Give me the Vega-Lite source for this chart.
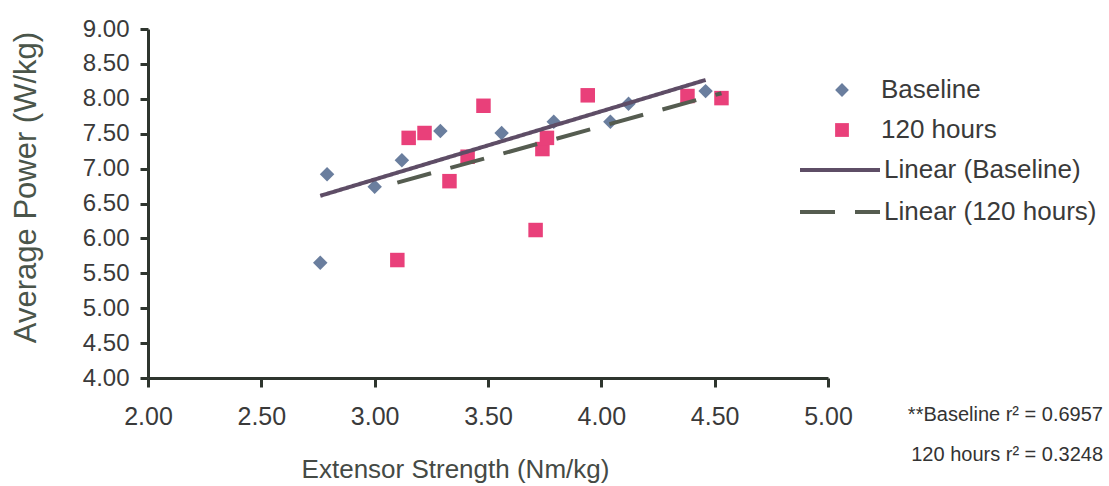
{
  "$schema": "https://vega.github.io/schema/vega-lite/v6.json",
  "width": 680,
  "height": 349,
  "autosize": {"type": "none"},
  "padding": {"left": 148, "top": 29, "right": 281, "bottom": 108},
  "background": "white",
  "title": {
    "text": ["**Baseline r² = 0.6957", "120 hours r² = 0.3248"],
    "orient": "bottom",
    "anchor": "end",
    "align": "right",
    "frame": "group",
    "dx": 275,
    "dy": -81,
    "font": "Liberation Sans",
    "fontSize": 20,
    "fontWeight": "normal",
    "color": "#333333",
    "lineHeight": 40
  },
  "datasets": {
    "points": [
      {"series": "Baseline", "strength": 2.76, "power": 5.65},
      {"series": "Baseline", "strength": 2.79, "power": 6.92},
      {"series": "Baseline", "strength": 3.00, "power": 6.74},
      {"series": "Baseline", "strength": 3.12, "power": 7.12},
      {"series": "Baseline", "strength": 3.29, "power": 7.54},
      {"series": "Baseline", "strength": 3.56, "power": 7.51},
      {"series": "Baseline", "strength": 3.79, "power": 7.67},
      {"series": "Baseline", "strength": 4.04, "power": 7.67},
      {"series": "Baseline", "strength": 4.12, "power": 7.93},
      {"series": "Baseline", "strength": 4.46, "power": 8.11},
      {"series": "120 hours", "strength": 3.10, "power": 5.69},
      {"series": "120 hours", "strength": 3.15, "power": 7.44},
      {"series": "120 hours", "strength": 3.22, "power": 7.51},
      {"series": "120 hours", "strength": 3.33, "power": 6.82},
      {"series": "120 hours", "strength": 3.41, "power": 7.17},
      {"series": "120 hours", "strength": 3.48, "power": 7.90},
      {"series": "120 hours", "strength": 3.71, "power": 6.12},
      {"series": "120 hours", "strength": 3.74, "power": 7.28},
      {"series": "120 hours", "strength": 3.76, "power": 7.44},
      {"series": "120 hours", "strength": 3.94, "power": 8.05},
      {"series": "120 hours", "strength": 4.38, "power": 8.04},
      {"series": "120 hours", "strength": 4.53, "power": 8.01}
    ],
    "trends": [
      {"series": "Linear (Baseline)", "strength": 2.76, "power": 6.61},
      {"series": "Linear (Baseline)", "strength": 4.46, "power": 8.27},
      {"series": "Linear (120 hours)", "strength": 3.10, "power": 6.80},
      {"series": "Linear (120 hours)", "strength": 4.53, "power": 8.08}
    ]
  },
  "encoding": {
    "x": {
      "field": "strength", "type": "quantitative",
      "scale": {"domain": [2, 5], "nice": false, "zero": false},
      "axis": {
        "title": "Extensor Strength (Nm/kg)",
        "values": [2, 2.5, 3, 3.5, 4, 4.5, 5],
        "format": ".2f",
        "tickSize": 9,
        "labelFontSize": 25,
        "labelPadding": 17,
        "titleFontSize": 26,
        "titleColor": "#454a45",
        "titlePadding": 27,
        "titleX": 307
      }
    },
    "y": {
      "field": "power", "type": "quantitative",
      "scale": {"domain": [4, 9], "nice": false, "zero": false},
      "axis": {
        "title": "Average Power (W/kg)",
        "values": [4, 4.5, 5, 5.5, 6, 6.5, 7, 7.5, 8, 8.5, 9],
        "format": ".2f",
        "tickSize": 8,
        "labelFontSize": 24,
        "labelPadding": 11,
        "titleFontSize": 31,
        "titleColor": "#4a554a",
        "titlePadding": 40,
        "titleY": 158
      }
    }
  },
  "layer": [
    {
      "data": {"name": "points"},
      "mark": {"type": "point", "filled": true, "opacity": 1, "strokeWidth": 0},
      "encoding": {
        "fill": {
          "field": "series", "type": "nominal",
          "scale": {"domain": ["Baseline", "120 hours"], "range": ["#6a7e9e", "#e9407a"]},
          "legend": {"title": null, "orient": "none", "legendX": 681, "legendY": 48, "symbolSize": 190, "labelOffset": 26, "rowPadding": 14}
        },
        "shape": {
          "field": "series", "type": "nominal",
          "scale": {"domain": ["Baseline", "120 hours"], "range": ["diamond", "square"]},
          "legend": {"title": null, "orient": "none", "legendX": 681, "legendY": 48, "symbolSize": 190, "labelOffset": 26, "rowPadding": 14}
        },
        "size": {"value": 210}
      }
    },
    {
      "data": {"name": "trends"},
      "mark": {"type": "line", "strokeWidth": 4},
      "encoding": {
        "stroke": {
          "field": "series", "type": "nominal",
          "scale": {"domain": ["Linear (Baseline)", "Linear (120 hours)"], "range": ["#5e4d66", "#555c50"]},
          "legend": {"title": null, "orient": "none", "legendX": 650, "legendY": 127, "symbolType": "stroke", "symbolSize": 6400, "symbolStrokeWidth": 4, "labelOffset": 2, "rowPadding": 14, "clipHeight": 28}
        },
        "strokeDash": {
          "field": "series", "type": "nominal",
          "scale": {"domain": ["Linear (Baseline)", "Linear (120 hours)"], "range": [[1, 0], [35, 20]]},
          "legend": {"title": null, "orient": "none", "legendX": 650, "legendY": 127, "symbolType": "stroke", "symbolSize": 6400, "symbolStrokeWidth": 4, "labelOffset": 2, "rowPadding": 14, "clipHeight": 28}
        }
      }
    }
  ],
  "config": {
    "view": {"stroke": null},
    "font": "Liberation Sans",
    "axis": {
      "grid": false,
      "domainColor": "#2e352e",
      "domainWidth": 3,
      "tickColor": "#2e352e",
      "tickWidth": 3,
      "labelFont": "Liberation Sans",
      "labelColor": "#3a3a3a",
      "titleFont": "Liberation Sans",
      "titleFontWeight": "normal",
      "labelFlush": false,
      "labelOverlap": false
    },
    "legend": {
      "labelFont": "Liberation Sans",
      "labelFontSize": 26,
      "labelColor": "#3a3a3a",
      "labelLimit": 400,
      "padding": 0
    }
  }
}
